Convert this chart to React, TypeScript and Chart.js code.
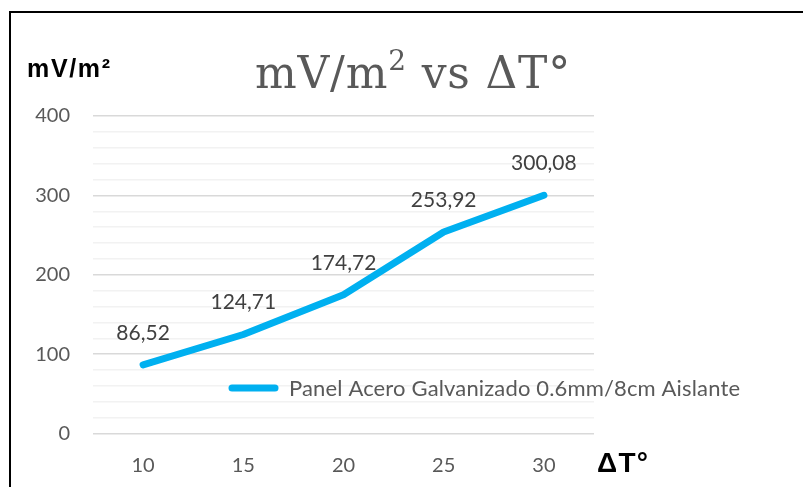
import React, { useEffect, useRef } from "react";
import { Chart, registerables } from "chart.js";

Chart.register(...registerables);

const categories = ["10", "15", "20", "25", "30"];
const values = [86.52, 124.71, 174.72, 253.92, 300.08];
const valueLabels = ["86,52", "124,71", "174,72", "253,92", "300,08"];
const seriesName = "Panel Acero Galvanizado 0.6mm/8cm Aislante";
const yTickStep = 20;
const yMajorStep = 100;
const yMin = 0;
const yMax = 400;

const LINE_COLOR = "#00B0F0";
const TEXT_COLOR = "#595959";
const LABEL_FONT = "Lato";

function fitText(ctx: CanvasRenderingContext2D, text: string, x: number, y: number, target: number) {
  (ctx as any).letterSpacing = "0px";
  const w = ctx.measureText(text).width;
  const n = Array.from(text).length;
  const sp = n > 1 ? (target - w) / (n - 1) : 0;
  (ctx as any).letterSpacing = `${sp}px`;
  ctx.fillText(text, x, y);
  (ctx as any).letterSpacing = "0px";
}

const overlayPlugin = {
  id: "overlay",
  afterDraw(chart: any) {
    const ctx = chart.ctx as CanvasRenderingContext2D;
    ctx.save();
    // frame
    ctx.fillStyle = "#000";
    ctx.fillRect(9, 11, 2, 476);
    ctx.fillRect(9, 11, 794, 2);

    // title
    ctx.fillStyle = TEXT_COLOR;
    ctx.textBaseline = "alphabetic";
    ctx.textAlign = "left";
    const big = "44px 'DejaVu Serif'";
    const small = "28px 'DejaVu Serif'";
    const p1 = "mV/m";
    const p2 = "2";
    const p3 = " vs ΔT°";
    const sp = 0.8;
    (ctx as any).letterSpacing = `${sp}px`;
    ctx.font = big;
    const w1 = ctx.measureText(p1).width;
    const w3 = ctx.measureText(p3).width;
    ctx.font = small;
    const w2 = ctx.measureText(p2).width;
    const total = w1 + w2 + w3;
    let tx = 413 - total / 2;
    const base = 88;
    ctx.font = big;
    ctx.fillText(p1, tx, base);
    tx += w1;
    ctx.font = small;
    ctx.fillText(p2, tx, base - 18);
    tx += w2;
    ctx.font = big;
    ctx.fillText(p3, tx, base);
    (ctx as any).letterSpacing = "0px";

    // axis titles
    ctx.fillStyle = "#000";
    ctx.textBaseline = "alphabetic";
    ctx.font = "bold 25px 'Liberation Sans'";
    fitText(ctx, "mV/m²", 27, 77, 83);
    ctx.font = "bold 28px 'Liberation Sans'";
    fitText(ctx, "ΔT°", 597, 472, 51);

    // data labels
    const meta = chart.getDatasetMeta(0);
    ctx.fillStyle = "#404040";
    ctx.font = `21px ${LABEL_FONT}`;
    ctx.textAlign = "center";
    ctx.textBaseline = "middle";
    meta.data.forEach((pt: any, i: number) => {
      ctx.fillText(valueLabels[i], pt.x, pt.y - 32);
    });

    // legend
    ctx.strokeStyle = LINE_COLOR;
    ctx.lineWidth = 7;
    ctx.lineCap = "round";
    ctx.beginPath();
    ctx.moveTo(232, 388);
    ctx.lineTo(275, 388);
    ctx.stroke();
    ctx.fillStyle = TEXT_COLOR;
    ctx.textAlign = "left";
    ctx.textBaseline = "middle";
    ctx.font = `22px ${LABEL_FONT}`;
    fitText(ctx, seriesName, 289, 389, 451);
    ctx.restore();
  },
};

export default function App() {
  const ref = useRef<HTMLCanvasElement | null>(null);
  useEffect(() => {
    if (!ref.current) return;
    const chart = new Chart(ref.current, {
      type: "line",
      data: {
        labels: categories,
        datasets: [
          {
            label: seriesName,
            data: values,
            borderColor: LINE_COLOR,
            backgroundColor: LINE_COLOR,
            borderWidth: 7,
            borderCapStyle: "round",
            borderJoinStyle: "round",
            pointRadius: 0,
            tension: 0,
          },
        ],
      },
      options: {
        animation: false,
        responsive: false,
        devicePixelRatio: 1,
        layout: { padding: { top: 116, right: 209, left: 0, bottom: 0 } },
        plugins: {
          legend: { display: false },
          title: { display: false },
          tooltip: { enabled: false },
        },
        scales: {
          x: {
            offset: true,
            grid: { display: false, drawTicks: false },
            border: { display: false },
            ticks: {
              color: TEXT_COLOR,
              font: { family: LABEL_FONT, size: 20 },
              padding: 20,
            },
            afterFit: (s: any) => {
              s.height = 487 - 433.5;
            },
          },
          y: {
            min: yMin,
            max: yMax,
            border: { display: false },
            grid: {
              drawTicks: false,
              lineWidth: 1.5,
              color: (c: any) =>
                c.tick && c.tick.value % yMajorStep === 0 ? "#d9d9d9" : "#f2f2f2",
            },
            ticks: {
              stepSize: yTickStep,
              autoSkip: false,
              color: TEXT_COLOR,
              font: { family: LABEL_FONT, size: 20 },
              padding: 23,
              callback: (v: any) => (Number(v) % yMajorStep === 0 ? String(v) : ""),
            },
            afterFit: (s: any) => {
              s.width = 93;
            },
          },
        },
      },
      plugins: [overlayPlugin],
    });
    return () => chart.destroy();
  }, []);
  return (
    <div style={{ position: "fixed", left: 0, top: 0, width: 803, height: 487, background: "#fff" }}>
      <canvas ref={ref} width={803} height={487} style={{ width: 803, height: 487, display: "block" }} />
    </div>
  );
}
